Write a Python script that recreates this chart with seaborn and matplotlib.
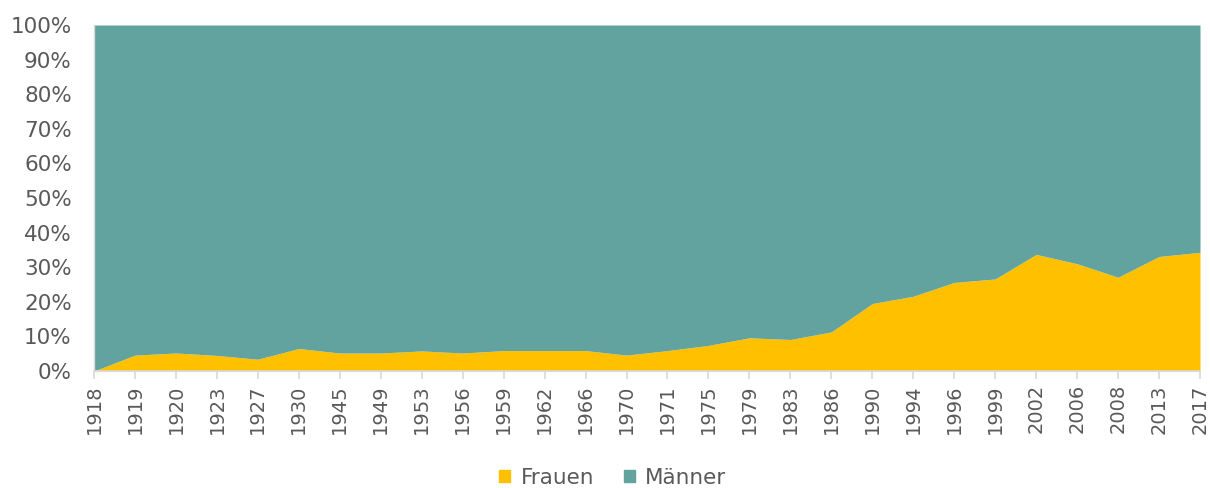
import matplotlib
matplotlib.use("Agg")
import matplotlib.pyplot as plt
import seaborn as sns
import numpy as np
from matplotlib.patches import Patch
from matplotlib.ticker import PercentFormatter

years = ["1918", "1919", "1920", "1923", "1927", "1930", "1945", "1949", "1953", "1956",
         "1959", "1962", "1966", "1970", "1971", "1975", "1979", "1983", "1986", "1990",
         "1994", "1996", "1999", "2002", "2006", "2008", "2013", "2017"]
frauen = [0.0, 4.6, 5.2, 4.5, 3.4, 6.5, 5.2, 5.2, 5.8, 5.2,
          5.9, 5.9, 5.9, 4.6, 5.9, 7.4, 9.6, 9.1, 11.3, 19.5,
          21.6, 25.6, 26.6, 33.7, 31.0, 27.1, 33.1, 34.3]
maenner = [100 - f for f in frauen]

col_f = "#FFC000"
col_m = "#62A39F"
txt = "#595959"

sns.set_theme(style="white")
plt.rcParams['font.family'] = ['DejaVu Sans']

fig = plt.figure(figsize=(12.1, 4.88), dpi=100)
ax = fig.add_axes([94/1210, 1 - 371/488, (1200 - 94)/1210, (371 - 25)/488])

x = np.arange(len(years))
ax.stackplot(x, frauen, maenner, colors=[col_f, col_m], linewidth=0)

ax.set_xlim(0, len(years) - 1)
ax.set_ylim(0, 100)
ax.set_xticks(x)
ax.set_xticklabels(years, rotation=90, fontsize=14, color=txt)
ax.set_yticks(np.arange(0, 101, 10))
ax.yaxis.set_major_formatter(PercentFormatter(decimals=0))
ax.tick_params(axis='y', labelsize=15.5, labelcolor=txt, length=0, pad=16)
ax.tick_params(axis='x', length=5.5, width=1.2, color="#d9d9d9", direction='out', pad=4, bottom=True)

for s in ["top", "right"]:
    ax.spines[s].set_visible(False)
ax.spines["left"].set_color("#d9d9d9")
ax.spines["left"].set_linewidth(1)
ax.spines["bottom"].set_color("#d9d9d9")
ax.spines["bottom"].set_linewidth(1.2)

handles = [Patch(color=col_f, label="Frauen"), Patch(color=col_m, label="Männer")]
leg = fig.legend(handles=handles, loc="center", bbox_to_anchor=(0.5 + 8/1210, 1 - 478/488), ncol=2,
                 frameon=False, fontsize=15.5, handlelength=0.48, handleheight=0.48,
                 handletextpad=0.5, columnspacing=1.4)
for t in leg.get_texts():
    t.set_color(txt)

fig.savefig("out.png", dpi=100)
